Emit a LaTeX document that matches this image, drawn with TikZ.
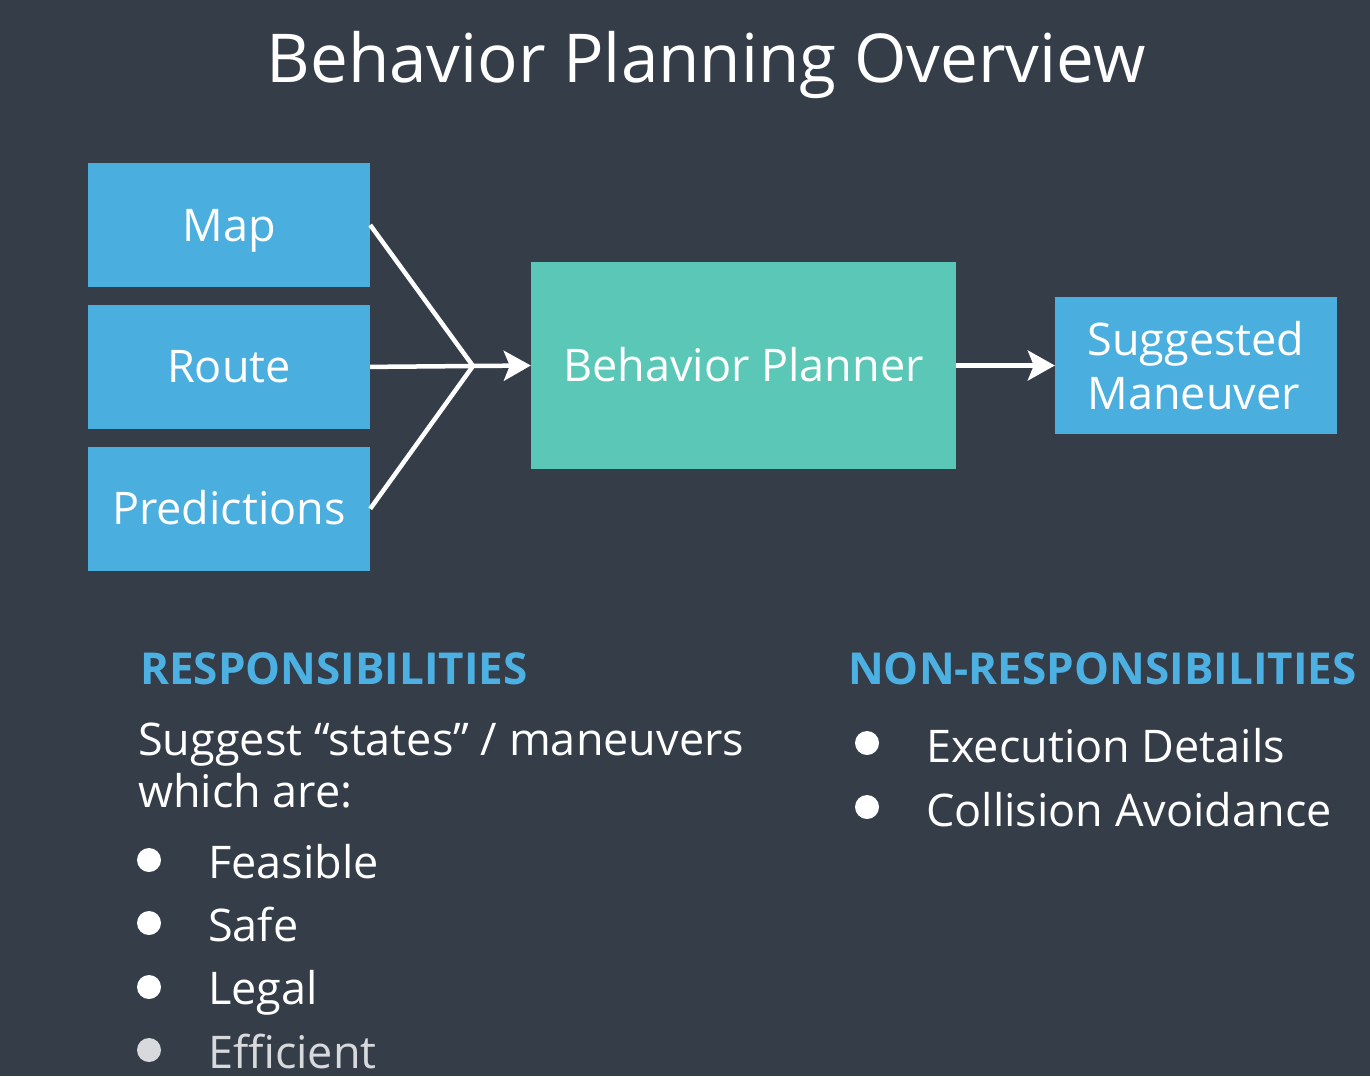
\documentclass[tikz,border=0pt]{standalone}
\usepackage{fontspec}
\setmainfont{Open Sans}
\usetikzlibrary{positioning,arrows.meta}

\definecolor{slatebg}{RGB}{52,61,72}
\definecolor{inblue}{RGB}{74,174,222}
\definecolor{planteal}{RGB}{91,200,183}
\definecolor{headblue}{RGB}{77,176,226}
\definecolor{fadegrey}{RGB}{215,217,220}

\tikzset{
  inbox/.style={fill=inblue, text=white, inner sep=0pt,
    minimum width=282pt, minimum height=124pt,
    text height=32pt, text depth=-3pt,
    font=\fontsize{45}{54}\selectfont},
  planbox/.style={fill=planteal, text=white, inner sep=0pt,
    minimum width=425pt, minimum height=207pt,
    text height=32pt, text depth=-3pt,
    font=\fontsize{45}{54}\selectfont},
  wire/.style={white, line width=4.5pt, line join=round},
  heading/.style={anchor=base west, inner sep=0pt, text=headblue,
    font=\bfseries\fontsize{44}{54}\selectfont},
  bodytext/.style={anchor=base west, inner sep=0pt, text=white,
    font=\fontsize{45}{54}\selectfont},
  dot/.style={circle, fill=white, inner sep=0pt, minimum size=24pt}
}

\begin{document}
\begin{tikzpicture}[x=1pt,y=-1pt]
    % background
    \fill[slatebg] (0,0) rectangle (1370,1076);
    \useasboundingbox (0,0) rectangle (1370,1076);

    % title
    \node[anchor=base, inner sep=0pt, text=white, font=\fontsize{67.4}{80}\selectfont]
      (title) at (706,82) {Behavior Planning Overview};

    % inputs
    \node[inbox] (map) at (229,225) {Map};
    \node[inbox, below=17.5pt of map] (route) {Route};
    \node[inbox, below=17.5pt of route] (pred) {Predictions};

    % planner and output
    \node[planbox] (planner) at (743.5,365.5) {Behavior Planner};
    \node[inbox, minimum height=137pt, text height=, text depth=, align=left]
      (maneuver) at (1196,365.5) {Suggested\\Maneuver};

    % connectors
    \coordinate (join) at (473,366);
    \draw[wire] (map.east) -- (join);
    \draw[wire] (pred.east) -- (join);
    \draw[wire] (route.east) -- (join);
    \draw[wire, -{Stealth[length=27pt, width=30pt, inset=6pt]}] (join) -- (planner.west);
    \draw[wire, -{Stealth[length=27pt, width=30pt, inset=6pt]}] (planner.east) -- (maneuver.west);

    % responsibilities
    \node[heading] (resp) at (140,684) {RESPONSIBILITIES};
    \node[bodytext] (sugg) at (138,755) {Suggest “states” / maneuvers};
    \node[bodytext] (which) at (138,807) {which are:};
    \node[dot] (d1) at (149,860) {};
    \node[bodytext] (feas) at (208,878) {Feasible};
    \node[dot] (d2) at (149,923) {};
    \node[bodytext] (safe) at (208,941) {Safe};
    \node[dot] (d3) at (149,987) {};
    \node[bodytext] (legal) at (208,1004) {Legal};
    \node[dot, fill=fadegrey] (d4) at (149,1050) {};
    \node[bodytext, text=fadegrey] (eff) at (208,1068) {Efficient};

    % non-responsibilities
    \node[heading] (nonresp) at (848,684) {NON-RESPONSIBILITIES};
    \node[dot] (d5) at (867,743) {};
    \node[bodytext] (exec) at (926,762) {Execution Details};
    \node[dot] (d6) at (867,807) {};
    \node[bodytext] (coll) at (926,826) {Collision Avoidance};
\end{tikzpicture}
\end{document}
